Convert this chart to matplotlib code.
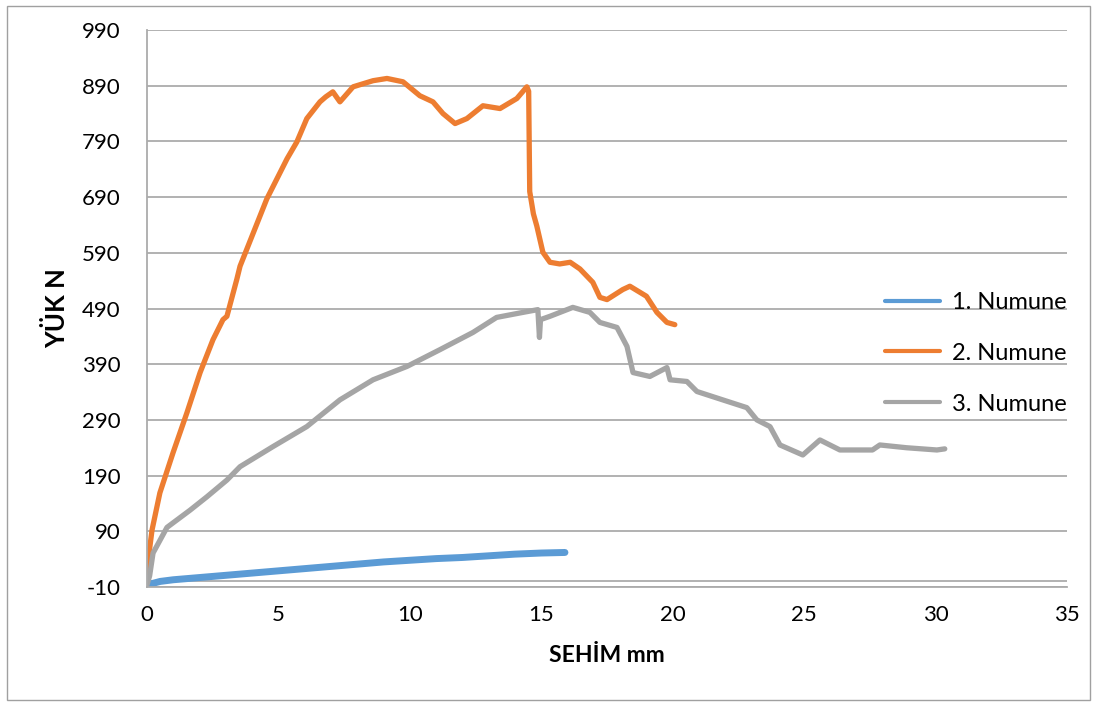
import matplotlib
matplotlib.use("Agg")
import matplotlib.pyplot as plt
from matplotlib.patches import Rectangle

plt.rcParams['font.family'] = ['Lato', 'DejaVu Sans']
plt.rcParams['axes.unicode_minus'] = False

# Series 1
x1 = [0.0, 0.1, 0.5, 1.0, 2.0, 3.0, 4.0, 5.0, 6.0, 7.0, 8.0, 9.0, 10.0, 11.0, 12.0, 13.0, 14.0, 15.0, 15.9]
y1 = [-8, -5, 0, 3, 7, 11, 15, 19, 23, 27, 31, 35, 38, 41, 43, 46, 49, 51, 52]

# Series 2
x2 = [0.0, 0.05, 0.19, 0.49, 0.99, 1.52, 2.02, 2.51, 2.89, 3.04, 3.42, 3.54, 4.56, 5.33, 5.70,
      6.08, 6.58, 6.80, 7.07, 7.34, 7.84, 8.60, 9.13, 9.74, 10.38, 10.88, 11.26, 11.72, 12.17, 12.78,
      13.43, 14.07, 14.45, 14.52, 14.56, 14.70, 14.83, 15.06, 15.33, 15.70, 16.10, 16.47, 16.96,
      17.23, 17.50, 18.10, 18.37, 19.00, 19.40, 19.78, 20.08]
y2 = [0, 40, 92, 159, 231, 303, 375, 434, 470, 476, 543, 566, 687, 759, 789,
      831, 861, 870, 879, 861, 888, 899, 903, 897, 872, 861, 840, 822, 831, 854,
      849, 867, 888, 880, 700, 660, 638, 591, 573, 570, 573, 561, 537,
      510, 506, 524, 530, 512, 483, 465, 461]

# Series 3
x3 = [0.0, 0.10, 0.23, 0.76, 1.64, 2.28, 3.04, 3.54, 4.79, 6.08, 7.34, 8.60, 9.89, 11.14,
      12.40, 13.30, 14.30, 14.87, 14.93, 14.97, 15.33, 16.20, 16.85, 17.23, 17.88, 18.26,
      18.49, 19.13, 19.78, 19.90, 20.54, 20.92, 21.90, 22.82, 23.20, 23.70, 24.08, 24.95,
      25.60, 26.36, 27.60, 27.88, 28.90, 30.05, 30.35]
y3 = [-6, 10, 51, 97, 128, 152, 182, 206, 242, 278, 326, 362, 386, 416,
      447, 474, 483, 488, 438, 470, 476, 492, 483, 465, 456, 422,
      375, 368, 384, 362, 359, 341, 326, 312, 290, 278, 245, 227,
      254, 236, 236, 245, 240, 236, 238]

labels = ['1. Numune', '2. Numune', '3. Numune']
colors = ['#5B9BD5', '#ED7D31', '#A5A5A5']

yticks = list(range(-10, 991, 100))
xticks = list(range(0, 36, 5))

fig = plt.figure(figsize=(10.97, 7.04), dpi=100)
ax = fig.add_axes([147/1097, 1-587/704, (1067-147)/1097, (587-30)/704])

ax.plot(x1, y1, color=colors[0], lw=5, label=labels[0], solid_capstyle='round')
ax.plot(x2, y2, color=colors[1], lw=3.8, label=labels[1], solid_capstyle='round')
ax.plot(x3, y3, color=colors[2], lw=3.8, label=labels[2], solid_capstyle='round')

ax.set_xlim(0, 35)
ax.set_ylim(-10, 990)
ax.set_xticks(xticks)
ax.set_yticks(yticks)
ax.yaxis.grid(True, color='#ababab', lw=1.3)
ax.set_axisbelow(True)
ax.axhline(0, color='#ababab', lw=1.3, zorder=0)
for s in ['top', 'right']:
    ax.spines[s].set_visible(False)
for s in ['left', 'bottom']:
    ax.spines[s].set_color('#ababab')
    ax.spines[s].set_linewidth(1.3)
ax.tick_params(length=0, labelsize=16, colors='black')
ax.tick_params(axis='y', pad=19)
ax.tick_params(axis='x', pad=13)

ax.set_xlabel('SEHİM mm', fontsize=16.5, fontweight='bold', labelpad=14)
ax.set_ylabel('YÜK N', fontsize=18.5, fontweight='bold', labelpad=9)

leg = ax.legend(loc='upper left', bbox_to_anchor=((885-147)/920, (587-292)/557),
                frameon=False, fontsize=17, handlelength=2.35, handletextpad=0.5,
                labelspacing=1.26, borderaxespad=0, borderpad=0)
for h in leg.get_lines():
    h.set_linewidth(3)

fig.add_artist(Rectangle((7/1097, 4/704), 1083/1097, 694/704, transform=fig.transFigure,
                         fill=False, edgecolor='#a0a0a0', lw=1))

fig.savefig('out.png', dpi=100)
